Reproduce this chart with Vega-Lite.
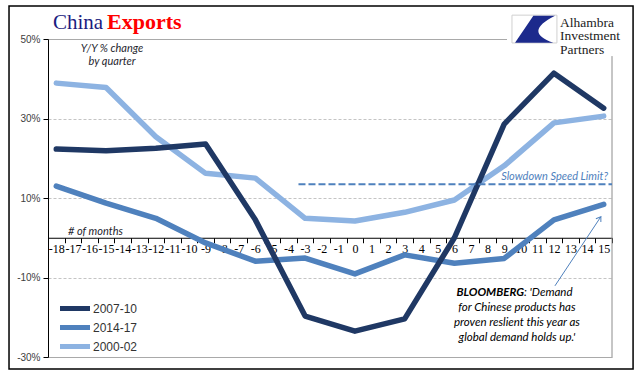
{
  "$schema": "https://vega.github.io/schema/vega-lite/v6.json",
  "width": 564,
  "height": 318,
  "autosize": {"type": "none"},
  "padding": {"left": 48, "top": 39, "right": 29, "bottom": 24},
  "background": "white",
  "config": {"view": {"stroke": null}},
  "datasets": {
    "exports": [
      {"quarter": -18, "series": "2007-10", "value": 22.3},
      {"quarter": -15, "series": "2007-10", "value": 21.9},
      {"quarter": -12, "series": "2007-10", "value": 22.5},
      {"quarter": -9, "series": "2007-10", "value": 23.6},
      {"quarter": -6, "series": "2007-10", "value": 4.5},
      {"quarter": -3, "series": "2007-10", "value": -19.7},
      {"quarter": 0, "series": "2007-10", "value": -23.5},
      {"quarter": 3, "series": "2007-10", "value": -20.4},
      {"quarter": 6, "series": "2007-10", "value": 0.0},
      {"quarter": 9, "series": "2007-10", "value": 28.6},
      {"quarter": 12, "series": "2007-10", "value": 41.4},
      {"quarter": 15, "series": "2007-10", "value": 32.6},
      {"quarter": -18, "series": "2014-17", "value": 13.0},
      {"quarter": -15, "series": "2014-17", "value": 8.7},
      {"quarter": -12, "series": "2014-17", "value": 4.9},
      {"quarter": -9, "series": "2014-17", "value": -1.3},
      {"quarter": -6, "series": "2014-17", "value": -5.9},
      {"quarter": -3, "series": "2014-17", "value": -5.1},
      {"quarter": 0, "series": "2014-17", "value": -9.1},
      {"quarter": 3, "series": "2014-17", "value": -4.3},
      {"quarter": 6, "series": "2014-17", "value": -6.4},
      {"quarter": 9, "series": "2014-17", "value": -5.2},
      {"quarter": 12, "series": "2014-17", "value": 4.5},
      {"quarter": 15, "series": "2014-17", "value": 8.4},
      {"quarter": -18, "series": "2000-02", "value": 38.9},
      {"quarter": -15, "series": "2000-02", "value": 37.8},
      {"quarter": -12, "series": "2000-02", "value": 25.4},
      {"quarter": -9, "series": "2000-02", "value": 16.2},
      {"quarter": -6, "series": "2000-02", "value": 15.0},
      {"quarter": -3, "series": "2000-02", "value": 4.9},
      {"quarter": 0, "series": "2000-02", "value": 4.2},
      {"quarter": 3, "series": "2000-02", "value": 6.4},
      {"quarter": 6, "series": "2000-02", "value": 9.5},
      {"quarter": 9, "series": "2000-02", "value": 18.1},
      {"quarter": 12, "series": "2000-02", "value": 28.9},
      {"quarter": 15, "series": "2000-02", "value": 30.6}
    ],
    "one": [{}]
  },
  "layer": [
    {
      "data": {"name": "exports"},
      "transform": [{"filter": "datum.series == '2000-02'"}],
      "mark": {"type": "line", "strokeWidth": 5.5, "strokeCap": "round", "strokeJoin": "round"},
      "encoding": {
        "x": {"field": "quarter", "type": "quantitative", "title": null,
          "scale": {"domain": [-18.5, 15.5], "nice": false, "zero": false},
          "axis": {
            "values": [-18.5,-18,-17.5,-17,-16.5,-16,-15.5,-15,-14.5,-14,-13.5,-13,-12.5,-12,-11.5,-11,-10.5,-10,-9.5,-9,-8.5,-8,-7.5,-7,-6.5,-6,-5.5,-5,-4.5,-4,-3.5,-3,-2.5,-2,-1.5,-1,-0.5,0,0.5,1,1.5,2,2.5,3,3.5,4,4.5,5,5.5,6,6.5,7,7.5,8,8.5,9,9.5,10,10.5,11,11.5,12,12.5,13,13.5,14,14.5,15,15.5],
            "tickCount": 200,
            "labelExpr": "datum.value % 1 == 0 ? '' + datum.value : ''",
            "labelOverlap": false, "labelFlush": false, "labelBound": false,
            "labelFont": "Liberation Serif", "labelFontSize": 12, "labelColor": "#000000",
            "labelPadding": 1,
            "tickSize": 5,
            "tickOpacity": {"condition": {"test": "datum.value % 1 != 0", "value": 1}, "value": 0},
            "tickColor": "#000000",
            "domainColor": "#000000", "domainWidth": 1,
            "grid": false,
            "offset": -119.25
          }
        },
        "y": {"field": "value", "type": "quantitative", "title": null,
          "scale": {"domain": [-30, 50], "nice": false, "zero": false},
          "axis": {
            "values": [-30, -10, 10, 30, 50],
            "labelExpr": "datum.value + '%'",
            "labelFont": "Liberation Sans", "labelFontSize": 10, "labelColor": "#404040",
            "labelPadding": 3, "tickSize": 5, "tickColor": "#000000",
            "domainColor": "#000000",
            "grid": true,
            "gridColor": {"condition": {"test": "datum.value == 50 || datum.value == -30", "value": "#8c8c8c"}, "value": "#c4c4c4"},
            "gridDash": {"condition": {"test": "datum.value == 50 || datum.value == -30", "value": [1, 0]}, "value": [3, 2]}
          }
        },
        "color": {"field": "series", "type": "nominal", "title": null,
          "scale": {"domain": ["2007-10", "2014-17", "2000-02"], "range": ["#1F3864", "#4F81BD", "#8DB3E2"]},
          "legend": {
            "orient": "none", "legendX": 19.5, "legendY": 262, "padding": 0,
            "symbolType": "M-3,0L3,0", "symbolSize": 100, "symbolStrokeWidth": 5,
            "rowPadding": -2,
            "labelFont": "Liberation Sans", "labelFontSize": 12, "labelColor": "#333333", "labelOffset": 10.5
          }
        }
      }
    },
    {
      "data": {"name": "exports"},
      "transform": [{"filter": "datum.series == '2014-17'"}],
      "mark": {"type": "line", "strokeWidth": 5.5, "strokeCap": "round", "strokeJoin": "round"},
      "encoding": {
        "x": {"field": "quarter", "type": "quantitative"},
        "y": {"field": "value", "type": "quantitative"},
        "color": {"field": "series", "type": "nominal"}
      }
    },
    {
      "data": {"name": "exports"},
      "transform": [{"filter": "datum.series == '2007-10'"}],
      "mark": {"type": "line", "strokeWidth": 5.5, "strokeCap": "round", "strokeJoin": "round"},
      "encoding": {
        "x": {"field": "quarter", "type": "quantitative"},
        "y": {"field": "value", "type": "quantitative"},
        "color": {"field": "series", "type": "nominal"}
      }
    },
    {
      "data": {"name": "one"},
      "mark": {"type": "rect", "fill": "white", "stroke": null},
      "encoding": {
        "x": {"datum": 9.17, "type": "quantitative"}, "x2": {"datum": 16.6},
        "y": {"datum": 57.6, "type": "quantitative"}, "y2": {"datum": 45.7}
      }
    },
    {
      "data": {"name": "one"},
      "mark": {"type": "rule", "color": "#8c8c8c", "strokeWidth": 1},
      "encoding": {
        "x": {"datum": 15.5, "type": "quantitative"},
        "y": {"datum": -30, "type": "quantitative"}, "y2": {"datum": 45.7}
      }
    },
    {
      "data": {"name": "one"},
      "mark": {"type": "rule", "color": "#4F81BD", "strokeWidth": 2, "strokeDash": [7, 3]},
      "encoding": {
        "x": {"datum": -3.4, "type": "quantitative"}, "x2": {"datum": 15.5},
        "y": {"datum": 13.44, "type": "quantitative"}
      }
    },
    {
      "data": {"name": "one"},
      "mark": {"type": "text", "text": "Slowdown Speed Limit?", "font": "Lato", "fontStyle": "italic", "fontSize": 11, "color": "#4F81BD", "align": "right", "baseline": "middle"},
      "encoding": {
        "x": {"datum": 15.26, "type": "quantitative"},
        "y": {"datum": 15.36, "type": "quantitative"}
      }
    },
    {
      "data": {"name": "one"},
      "mark": {"type": "rule", "color": "#4F81BD", "strokeWidth": 1},
      "encoding": {
        "x": {"datum": 12.06, "type": "quantitative"}, "x2": {"datum": 14.83},
        "y": {"datum": -12.1, "type": "quantitative"}, "y2": {"datum": 5.3}
      }
    },
    {
      "data": {"name": "one"},
      "mark": {"type": "point", "shape": "M-0.6,0.9L0,0L0.6,0.9", "filled": false, "stroke": "#4F81BD", "strokeWidth": 1, "size": 100, "angle": 34, "opacity": 1},
      "encoding": {
        "x": {"datum": 14.83, "type": "quantitative"},
        "y": {"datum": 5.3, "type": "quantitative"}
      }
    },
    {
      "data": {"name": "one"},
      "mark": {"type": "text", "text": ["Y/Y % change", "by quarter"], "font": "Lato", "fontStyle": "italic", "fontSize": 11, "color": "#1f1f2f", "align": "center", "baseline": "middle", "lineHeight": 13},
      "encoding": {
        "x": {"datum": -14.64, "type": "quantitative"},
        "y": {"datum": 47.48, "type": "quantitative"}
      }
    },
    {
      "data": {"name": "one"},
      "mark": {"type": "text", "text": "# of months", "font": "Lato", "fontStyle": "italic", "fontSize": 11, "color": "#1f1f2f", "align": "left", "baseline": "middle"},
      "encoding": {
        "x": {"datum": -17.29, "type": "quantitative"},
        "y": {"datum": 1.45, "type": "quantitative"}
      }
    },
    {
      "data": {"name": "one"},
      "mark": {"type": "text", "text": "BLOOMBERG", "font": "Lato", "fontStyle": "italic", "fontWeight": "bold", "fontSize": 11.5, "color": "#000000", "align": "right", "baseline": "middle"},
      "encoding": {
        "x": {"datum": 10.195, "type": "quantitative"},
        "y": {"datum": -13.9, "type": "quantitative"}
      }
    },
    {
      "data": {"name": "one"},
      "mark": {"type": "text", "text": ": 'Demand", "font": "Lato", "fontStyle": "italic", "fontSize": 11.5, "color": "#000000", "align": "left", "baseline": "middle"},
      "encoding": {
        "x": {"datum": 10.195, "type": "quantitative"},
        "y": {"datum": -13.9, "type": "quantitative"}
      }
    },
    {
      "data": {"name": "one"},
      "mark": {"type": "text", "text": ["for Chinese products has", "proven reslient this year as", "global demand holds up.'"], "font": "Lato", "fontStyle": "italic", "fontSize": 11.5, "color": "#000000", "align": "center", "baseline": "middle", "lineHeight": 15},
      "encoding": {
        "x": {"datum": 9.77, "type": "quantitative"},
        "y": {"datum": -17.67, "type": "quantitative"}
      }
    },
    {
      "data": {"name": "one"},
      "mark": {"type": "rect", "fill": "white", "stroke": "#d0d0d0", "strokeWidth": 1},
      "encoding": {
        "x": {"datum": 9.47, "type": "quantitative"}, "x2": {"datum": 12.18},
        "y": {"datum": 56.0, "type": "quantitative"}, "y2": {"datum": 49.0}
      }
    },
    {
      "data": {"name": "one"},
      "mark": {"type": "point", "shape": "M-1.2,-13.3L20.5,-13.3Q-12,3 18.8,13.7L-19.5,13.7Z", "filled": true, "fill": "#1c2a8c", "strokeWidth": 0, "size": 4, "opacity": 1},
      "encoding": {
        "x": {"datum": 10.83, "type": "quantitative"},
        "y": {"datum": 52.5, "type": "quantitative"}
      }
    },
    {
      "data": {"name": "one"},
      "mark": {"type": "text", "text": ["Alhambra", "Investment", "Partners"], "font": "Liberation Serif", "fontSize": 13.5, "color": "#222222", "align": "left", "baseline": "middle", "lineHeight": 13.5},
      "encoding": {
        "x": {"datum": 12.37, "type": "quantitative"},
        "y": {"datum": 54.03, "type": "quantitative"}
      }
    },
    {
      "data": {"name": "one"},
      "mark": {"type": "text", "text": "China", "font": "Liberation Serif", "fontSize": 21, "color": "#1B1B80", "align": "left", "baseline": "alphabetic"},
      "encoding": {
        "x": {"datum": -18.2, "type": "quantitative"},
        "y": {"datum": 52.44, "type": "quantitative"}
      }
    },
    {
      "data": {"name": "one"},
      "mark": {"type": "text", "text": "Exports", "font": "Liberation Serif", "fontSize": 22, "fontWeight": "bold", "color": "#FF0000", "align": "left", "baseline": "alphabetic"},
      "encoding": {
        "x": {"datum": -14.94, "type": "quantitative"},
        "y": {"datum": 52.44, "type": "quantitative"}
      }
    },
    {
      "data": {"name": "one"},
      "mark": {"type": "rect", "fill": null, "fillOpacity": 0, "stroke": "#000000", "strokeWidth": 1.5},
      "encoding": {
        "x": {"datum": -20.85, "type": "quantitative"}, "x2": {"datum": 16.77},
        "y": {"datum": 58.3, "type": "quantitative"}, "y2": {"datum": -33.0}
      }
    }
  ]
}
